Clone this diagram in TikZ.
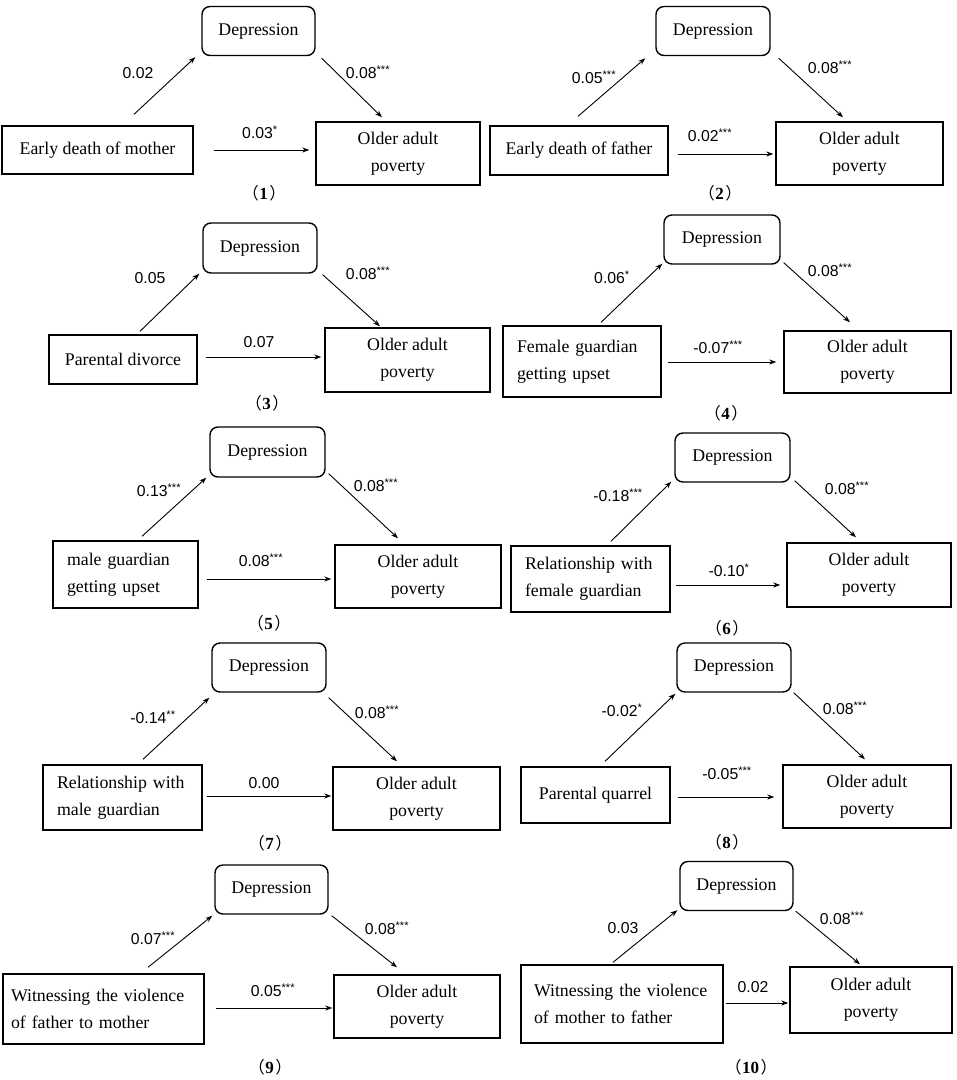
\documentclass[tikz,border=0pt]{standalone}
\usepackage{fontspec}
\setmainfont{Liberation Serif}
\setsansfont{Liberation Sans}
\newfontfamily\cjk{Noto Sans CJK SC}
\usetikzlibrary{arrows.meta}
\newcommand\stars[1]{\textsuperscript{#1}}
\newcommand\tagno[1]{{\cjk\fontsize{16.5}{18}\selectfont （}\kern0.5pt\textbf{#1}\kern1.5pt{\cjk\fontsize{16.5}{18}\selectfont ）}}
\tikzset{
  link/.style={-{Stealth[length=7pt,width=5pt]},line width=0.9pt},
  depbox/.style={draw,rounded corners=8pt,line width=1.4pt,minimum width=113pt,
    minimum height=49pt,inner sep=0pt,font=\rmfamily\fontsize{17.8}{27}\selectfont},
  srcbox/.style={draw,line width=1.4pt,inner xsep=14pt,inner ysep=0pt,align=left,
    font=\rmfamily\fontsize{17.8}{27}\selectfont},
  outbox/.style={draw,line width=1.4pt,inner sep=0pt,align=center,
    font=\rmfamily\fontsize{17.8}{27}\selectfont},
  coef/.style={inner sep=1pt,font=\sffamily\fontsize{15.8}{18}\selectfont},
  tag/.style={inner sep=1pt,font=\rmfamily\fontsize{17}{20}\selectfont}
}
\begin{document}
\begin{tikzpicture}[x=1pt,y=-1pt]
  \useasboundingbox (0,0) rectangle (957,1080);
  % (1)
  \node[depbox] (d1) at (258.5,31) {Depression};
  \node[srcbox,align=center,minimum width=191pt,minimum height=48pt] (s1) at (97.5,150) {Early death of mother};
  \node[outbox,minimum width=164pt,minimum height=63pt] (o1) at (398,153.5) {Older adult\\poverty};
  \draw[link] ([shift={(36.5,-11)}]s1.north) -- ([shift={(-6,1)}]d1.south west);
  \draw[link] ([shift={(6,2)}]d1.south east) -- ([shift={(-16,-4)}]o1.north);
  \draw[link] ([shift={(20,0)}]s1.east) -- ([shift={(-6,-3.5)}]o1.west);
  \node[coef] (a1) at (138,73) {0.02};
  \node[coef] (b1) at (368,72) {0.08\stars{***}};
  \node[coef] (c1) at (260,132) {0.03\stars{*}};
  \node[tag] (t1) at (264,193) {\tagno{1}};
  % (2)
  \node[depbox,minimum width=114pt] (d2) at (713,31) {Depression};
  \node[srcbox,align=center,minimum width=178pt,minimum height=49pt] (s2) at (579,150.5) {Early death of father};
  \node[outbox,minimum width=167pt,minimum height=63pt] (o2) at (859.5,153.5) {Older adult\\poverty};
  \draw[link] ([shift={(-1,-9)}]s2.north) -- ([shift={(-10,2)}]d2.south west);
  \draw[link] ([shift={(8,2)}]d2.south east) -- ([shift={(-16.5,-4)}]o2.north);
  \draw[link] ([shift={(9,3.5)}]s2.east) -- ([shift={(-2,0.5)}]o2.west);
  \node[coef] (a2) at (594,77) {0.05\stars{***}};
  \node[coef] (b2) at (830,67) {0.08\stars{***}};
  \node[coef] (c2) at (710,135) {0.02\stars{***}};
  \node[tag] (t2) at (720,193) {\tagno{2}};
  % (3)
  \node[depbox,minimum width=114pt,minimum height=50pt] (d3) at (260,248) {Depression};
  \node[srcbox,align=center,minimum width=148pt,minimum height=49pt] (s3) at (123,359.5) {Parental divorce};
  \node[outbox,minimum width=165pt,minimum height=64pt] (o3) at (407.5,360) {Older adult\\poverty};
  \draw[link] ([shift={(17,-3)}]s3.north) -- ([shift={(-3,0)}]d3.south west);
  \draw[link] ([shift={(5,1)}]d3.south east) -- ([shift={(-27.5,-1)}]o3.north);
  \draw[link] ([shift={(8,-2.5)}]s3.east) -- ([shift={(-3,-3)}]o3.west);
  \node[coef] (a3) at (150,278) {0.05};
  \node[coef] (b3) at (368,273) {0.08\stars{***}};
  \node[coef] (c3) at (259,342) {0.07};
  \node[tag] (t3) at (267,403) {\tagno{3}};
  % (4)
  \node[depbox,minimum width=116pt] (d4) at (722,239.5) {Depression};
  \node[srcbox,text width=130pt,minimum height=71pt] (s4) at (582,361.5) {Female guardian\\getting upset};
  \node[outbox,minimum width=167pt,minimum height=62pt] (o4) at (867.5,362) {Older adult\\poverty};
  \draw[link] ([shift={(19,-3)}]s4.north) -- ([shift={(-1,-1)}]d4.south west);
  \draw[link] ([shift={(3,-2)}]d4.south east) -- ([shift={(-17.5,-8)}]o4.north);
  \draw[link] ([shift={(6,0.5)}]s4.east) -- ([shift={(-7,0)}]o4.west);
  \node[coef] (a4) at (612,277) {0.06\stars{*}};
  \node[coef] (b4) at (830,270) {0.08\stars{***}};
  \node[coef] (c4) at (718,347) {-0.07\stars{***}};
  \node[tag] (t4) at (726,413) {\tagno{4}};
  % (5)
  \node[depbox,minimum width=115pt,minimum height=50pt] (d5) at (267.5,452) {Depression};
  \node[srcbox,text width=117pt,minimum height=67pt] (s5) at (125.5,574.5) {male guardian\\getting upset};
  \node[outbox,minimum width=166pt,minimum height=63pt] (o5) at (418,576.5) {Older adult\\poverty};
  \draw[link] ([shift={(16.5,-4)}]s5.north) -- ([shift={(-3,0)}]d5.south west);
  \draw[link] ([shift={(3,-4)}]d5.south east) -- ([shift={(-20,-6)}]o5.north);
  \draw[link] ([shift={(8,4.5)}]s5.east) -- ([shift={(-3,2.5)}]o5.west);
  \node[coef] (a5) at (159,490) {0.13\stars{***}};
  \node[coef] (b5) at (376,485) {0.08\stars{***}};
  \node[coef] (c5) at (261,560) {0.08\stars{***}};
  \node[tag] (t5) at (269,623) {\tagno{5}};
  % (6)
  \node[depbox,minimum width=115pt] (d6) at (732.5,457.5) {Depression};
  \node[srcbox,text width=131pt,minimum height=66pt] (s6) at (590.5,579) {Relationship with\\female guardian};
  \node[outbox,minimum width=164pt,minimum height=64pt] (o6) at (869,575) {Older adult\\poverty};
  \draw[link] ([shift={(20.5,-4)}]s6.north) -- ([shift={(-3,-1)}]d6.south west);
  \draw[link] ([shift={(4,-2)}]d6.south east) -- ([shift={(-13,-5)}]o6.north);
  \draw[link] ([shift={(5,6)}]s6.east) -- ([shift={(-6,10)}]o6.west);
  \node[coef] (a6) at (618,495) {-0.18\stars{***}};
  \node[coef] (b6) at (847,488) {0.08\stars{***}};
  \node[coef] (c6) at (729,570) {-0.10\stars{*}};
  \node[tag] (t6) at (727,628) {\tagno{6}};
  % (7)
  \node[depbox,minimum width=114pt] (d7) at (269,667.5) {Depression};
  \node[srcbox,text width=131pt,minimum height=65pt] (s7) at (122.5,797.5) {Relationship with\\male guardian};
  \node[outbox,minimum width=167pt,minimum height=63pt] (o7) at (416.5,798.5) {Older adult\\poverty};
  \draw[link] ([shift={(20.5,-5)}]s7.north) -- ([shift={(-2,5)}]d7.south west);
  \draw[link] ([shift={(2,5)}]d7.south east) -- ([shift={(-19.5,-5)}]o7.north);
  \draw[link] ([shift={(4,-1.5)}]s7.east) -- ([shift={(-1,-2.5)}]o7.west);
  \node[coef] (a7) at (153,717) {-0.14\stars{**}};
  \node[coef] (b7) at (377,712) {0.08\stars{***}};
  \node[coef] (c7) at (264,783) {0.00};
  \node[tag] (t7) at (270,843) {\tagno{7}};
  % (8)
  \node[depbox,minimum width=114pt] (d8) at (734,667.5) {Depression};
  \node[srcbox,align=center,minimum width=149pt,minimum height=56pt] (s8) at (595.5,795) {Parental quarrel};
  \node[outbox,minimum width=168pt,minimum height=63pt] (o8) at (867,796.5) {Older adult\\poverty};
  \draw[link] ([shift={(9.5,-5)}]s8.north) -- ([shift={(-1,1)}]d8.south west);
  \draw[link] ([shift={(2,0)}]d8.south east) -- ([shift={(-2,-5)}]o8.north);
  \draw[link] ([shift={(7,2)}]s8.east) -- ([shift={(-8,0.5)}]o8.west);
  \node[coef] (a8) at (622,710) {-0.02\stars{*}};
  \node[coef] (b8) at (845,708) {0.08\stars{***}};
  \node[coef] (c8) at (727,773) {-0.05\stars{***}};
  \node[tag] (t8) at (727,842) {\tagno{8}};
  % (9)
  \node[depbox] (d9) at (271.5,889.5) {Depression};
  \node[srcbox,inner xsep=8pt,text width=185pt,minimum height=70pt] (s9) at (103.5,1009) {Witnessing the violence\\of father to mother};
  \node[outbox,minimum width=166pt,minimum height=63pt] (o9) at (417,1006.5) {Older adult\\poverty};
  \draw[link] ([shift={(44.5,-6)}]s9.north) -- ([shift={(-2,1)}]d9.south west);
  \draw[link] ([shift={(3,1)}]d9.south east) -- ([shift={(-20,-7)}]o9.north);
  \draw[link] ([shift={(11,-1)}]s9.east) -- ([shift={(-1,1.5)}]o9.west);
  \node[coef] (a9) at (153,938) {0.07\stars{***}};
  \node[coef] (b9) at (387,928) {0.08\stars{***}};
  \node[coef] (c9) at (273,990) {0.05\stars{***}};
  \node[tag] (t9) at (270,1067) {\tagno{9}};
  % (10)
  \node[depbox] (d10) at (736.5,886) {Depression};
  \node[srcbox,inner xsep=13pt,text width=176pt,minimum height=78pt] (s10) at (622,1004) {Witnessing the violence\\of mother to father};
  \node[outbox,minimum width=162pt,minimum height=66pt] (o10) at (871,1000) {Older adult\\poverty};
  \draw[link] ([shift={(-9,-2)}]s10.north) -- ([shift={(-2,-1)}]d10.south west);
  \draw[link] ([shift={(2,0)}]d10.south east) -- ([shift={(-11,-2)}]o10.north);
  \draw[link] ([shift={(2,-1)}]s10.east) -- ([shift={(-1,3)}]o10.west);
  \node[coef] (a10) at (623,928) {0.03};
  \node[coef] (b10) at (842,918) {0.08\stars{***}};
  \node[coef] (c10) at (753,987) {0.02};
  \node[tag] (t10) at (751,1067) {\tagno{10}};
\end{tikzpicture}
\end{document}
